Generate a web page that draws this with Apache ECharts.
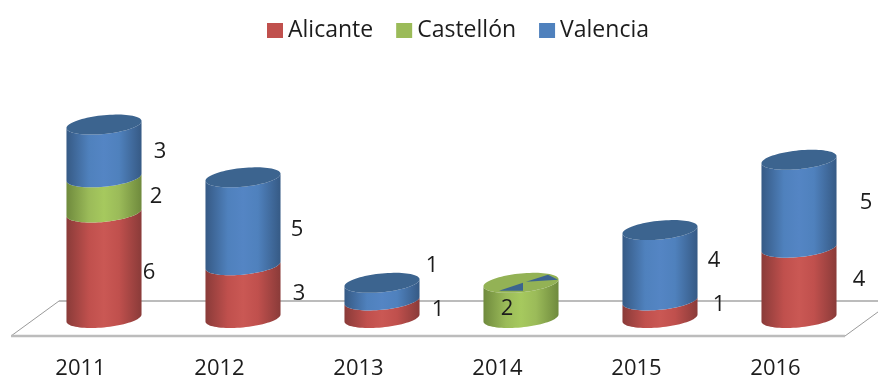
<!DOCTYPE html>
<html>
<head>
<meta charset="utf-8">
<style>html,body{margin:0;padding:0;background:#fff}#c{width:878px;height:380px;filter:blur(0.5px)}</style>
<script src="https://cdn.jsdelivr.net/npm/echarts@6/dist/echarts.min.js"></script>
</head>
<body>
<div id="c"></div>
<script>
const categories = ['2011','2012','2013','2014','2015','2016'];
const alicante  = [6,3,1,0,1,4];
const castellon = [2,0,0,2,0,0];
const valencia  = [3,5,1,0,4,5];

// label nudges (px, relative to the cylinder axis and segment middle)
const alicanteNudge  = [[45,7],[56,2],[56,1],[0,0],[59,-4],[60,-3]];
const castellonNudge = [[52,2],[0,0],[0,0],[-14,8],[0,0],[0,0]];
const valenciaNudge  = [[56,1],[54,8],[50,-26],[0,0],[54,-5],[67,-1]];

const FONT = '"Open Sans"';
const DEPTH_X = 48, DEPTH_Y = 35;
const RY = 9.4, SHEAR = 3.5;

function ellipsePts(cx, cy, rx, from, to, n) {
  const pts = [];
  for (let i = 0; i <= n; i++) {
    const t = from + (to - from) * i / n;
    pts.push([cx + rx * Math.cos(t), cy + RY * Math.sin(t) - SHEAR * Math.cos(t)]);
  }
  return pts;
}

const palette = {
  Alicante:  {edge:'#8a3b39', mid:'#c0504d', light:'#ca5854', cap:'#a84644'},
  'Castellón':{edge:'#6f8a3d', mid:'#9bbb59', light:'#a6c95e', cap:'#93b255'},
  Valencia:  {edge:'#365a85', mid:'#4f81bd', light:'#5485c4', cap:'#3c648f'}
};

const stackOrder = [alicante, castellon, valencia];

function makeSeries(name, values, level, nudges) {
  const c = palette[name];
  const data = values.map((v, i) => {
    let base = 0;
    for (let l = 0; l < level; l++) base += stackOrder[l][i];
    return [i, base, base + v, v];
  });
  return {
    type: 'custom',
    name,
    coordinateSystem: 'cartesian2d',
    itemStyle: {color: c.mid},
    silent: true,
    clip: false,
    z: 3,
    encode: {x: 0, y: 2},
    data,
    renderItem(params, api) {
      const i = api.value(0), b = api.value(1), t = api.value(2), v = api.value(3);
      const band = api.size([1, 0])[0];
      const rx = band * 0.27;
      const shiftX = DEPTH_X / 2 - 0.5, shiftY = -18;
      const pb = api.coord([i, b]), pt = api.coord([i, t]);
      const cx = pb[0] + shiftX, yb = pb[1] + shiftY, yt = pt[1] + shiftY;
      const children = [];
      if (v === 0) {
        if (name === 'Valencia' && b > 0) {
          // zero-height Valencia slice showing through the cap of the column
          children.push({type:'polygon', shape:{points:[[cx+2,yt],[cx-22,yt+8],[cx+2,yt+8]]}, style:{fill:c.cap}});
          children.push({type:'polygon', shape:{points:[[cx+5,yt-1],[cx+27,yt-8],[cx+37,yt-3]]}, style:{fill:c.cap}});
          return {type:'group', children};
        }
        return null;
      }
      const front = ellipsePts(cx, yb, rx, Math.PI, 0, 40);
      const backUp = ellipsePts(cx, yt, rx, 0, Math.PI, 40);
      const fill = new echarts.graphic.LinearGradient(0, 0, 1, 0, [
        {offset: 0, color: c.edge},
        {offset: 0.3, color: c.mid},
        {offset: 0.5, color: c.light},
        {offset: 0.7, color: c.mid},
        {offset: 1, color: c.edge}
      ]);
      children.push({type:'polygon', shape:{points: front.concat(backUp)}, style:{fill}});
      let isTop = true;
      for (let l = level + 1; l < stackOrder.length; l++) if (stackOrder[l][i] > 0) isTop = false;
      if (isTop) {
        children.push({type:'polygon', shape:{points: ellipsePts(cx, yt, rx, 0, Math.PI * 2, 80)}, style:{fill:c.cap}});
      }
      const n = nudges[i];
      children.push({type:'text', z2: 10, style:{
        text: String(v), x: cx + n[0], y: (yb + yt) / 2 + n[1],
        align:'center', verticalAlign:'middle',
        font: '22px ' + FONT, fill:'#1c1c1c'
      }});
      return {type:'group', children};
    }
  };
}

const floorSeries = {
  type:'custom', name:'floor', coordinateSystem:'cartesian2d', silent:true, clip:false, z:1,
  data:[[0,0]], encode:{x:0,y:1},
  renderItem(params, api) {
    const r = params.coordSys, y0 = r.y + r.height, xl = r.x, xr = r.x + r.width;
    const edge = (a, b, w, col) => ({type:'line', shape:{x1:a[0],y1:a[1],x2:b[0],y2:b[1]},
      style:{stroke:col, lineWidth:w}});
    const fl = [xl, y0], fr = [xr, y0], bl = [xl + DEPTH_X, y0 - DEPTH_Y], br = [xr + DEPTH_X, y0 - DEPTH_Y];
    return {type:'group', children:[
      edge(fl, bl, 1, '#9a9a9a'), edge(fr, br, 1, '#9a9a9a'),
      edge(bl, br, 2, '#bcbcbc'), edge(fl, fr, 2.5, '#bcbcbc')
    ]};
  }
};

const chart = echarts.init(document.getElementById('c'), null, {renderer:'canvas'});
chart.setOption({
  animation:false,
  backgroundColor:'#fff',
  legend:{
    data:['Alicante','Castellón','Valencia'],
    left:262, top:14, icon:'rect', itemWidth:16, itemHeight:15, itemGap:23,
    textStyle:{fontFamily:FONT, fontSize:23, color:'#1c1c1c'},
    selectedMode:false
  },
  grid:{left:11, right:33, bottom:43, top:125},
  xAxis:{type:'category', data:categories, axisLine:{show:false}, axisTick:{show:false},
    axisLabel:{fontFamily:FONT, fontSize:22, color:'#1c1c1c', margin:22}},
  yAxis:{type:'value', min:0, max:12, show:false},
  series:[floorSeries,
    makeSeries('Alicante', alicante, 0, alicanteNudge),
    makeSeries('Castellón', castellon, 1, castellonNudge),
    makeSeries('Valencia', valencia, 2, valenciaNudge)]
});
</script>
</body>
</html>
